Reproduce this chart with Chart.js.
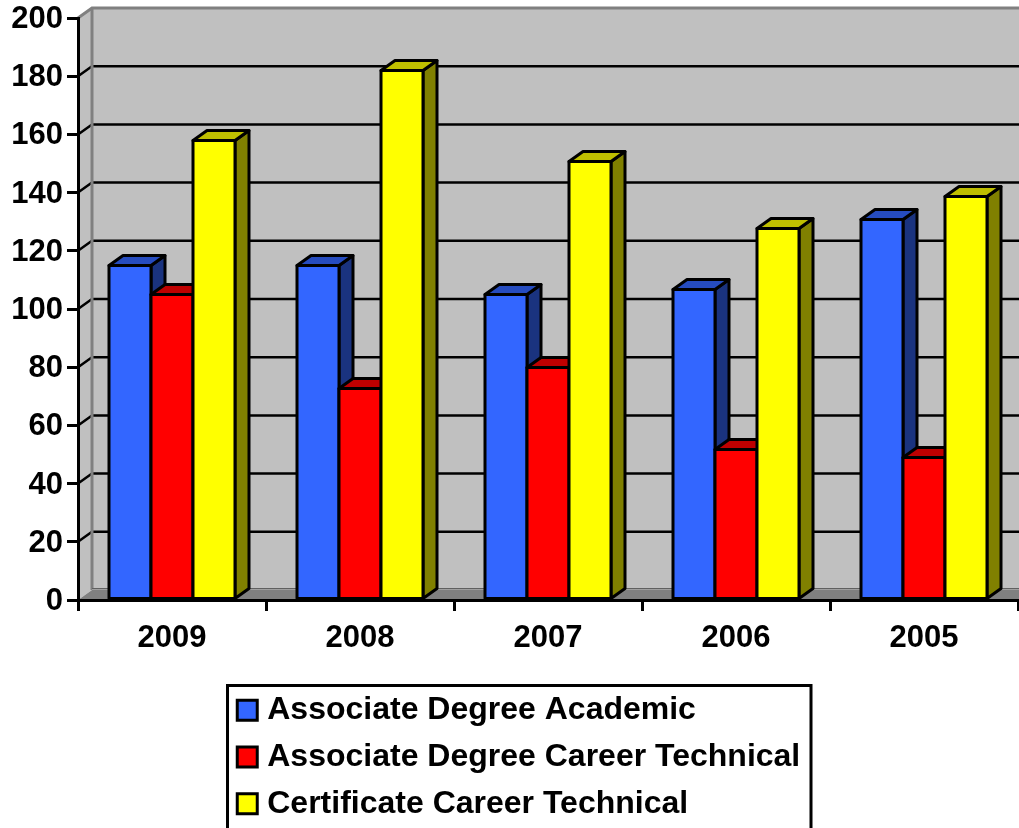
<!DOCTYPE html>
<html>
<head>
<meta charset="utf-8">
<style>
html,body{margin:0;padding:0;background:#fff;overflow:hidden}
#wrap{width:1019px;height:828px;position:relative}
</style>
<script src="https://cdn.jsdelivr.net/npm/chart.js@4"></script>
</head>
<body>
<div id="wrap"><canvas id="c"></canvas></div>
<script>
const categories = ['2009','2008','2007','2006','2005'];
const associateAcademic = [115,115,105,107,131];
const associateCareer = [105,73,80,52,49];
const certificateCareer = [158,182,151,128,139];
const seriesNames = ['Associate Degree Academic','Associate Degree Career Technical','Certificate Career Technical'];
const frontColors = ['#3366FF','#FF0000','#FFFF00'];
const topColors = ['#264CBF','#BF0000','#BFBF00'];
const sideColors = ['#1A337F','#7F0000','#808000'];
const yTicksMax = 200, yStep = 20;

const DX = 14, DY = 10, LW = 3;
const FAMILY = '"Liberation Sans", Arial, sans-serif';
const FONT = {family:FAMILY, weight:'bold', size:31};
const LEGEND_FONT = {family:FAMILY, weight:'bold', size:32};

function poly(ctx, pts, fill, stroke){
  ctx.beginPath();
  pts.forEach((p,i)=> i ? ctx.lineTo(p[0],p[1]) : ctx.moveTo(p[0],p[1]));
  ctx.closePath();
  if(fill){ctx.fillStyle=fill;ctx.fill();}
  if(stroke){ctx.strokeStyle=stroke;ctx.lineWidth=LW;ctx.lineJoin='round';ctx.stroke();}
}

const chart3d = {
  id:'chart3d',
  beforeLayout(chart){
    const lg = chart.legend;
    if(lg && !lg._patched){
      const fit = lg.fit;
      lg.fit = function(){ fit.call(this); this.height = 143; };
      lg._patched = true;
    }
  },
  afterLayout(chart){
    const lg = chart.legend;
    lg.left = 228.5; lg.right = 811; lg.top = 679.5; lg.bottom = 828; lg.width = 582.5;
  },
  beforeDraw(chart){
    const {ctx, chartArea:a, scales:{y}} = chart;
    const l=a.left, r=a.right+1, b=a.bottom, t=a.top;
    ctx.save();
    // back wall, side wall, floor
    poly(ctx,[[l+DX,t-DY],[r,t-DY],[r,b-DY],[l+DX,b-DY]],'#C0C0C0');
    poly(ctx,[[l,t],[l+DX,t-DY],[l+DX,b-DY],[l,b]],'#C0C0C0');
    poly(ctx,[[l,b],[l+DX,b-DY],[r,b-DY],[r,b]],'#808080');
    // grid lines on the wall
    ctx.strokeStyle='#000';ctx.lineWidth=2.5;
    y.ticks.forEach(tk=>{
      if(tk.value===0||tk.value===yTicksMax) return;
      const py=y.getPixelForValue(tk.value);
      ctx.beginPath();
      ctx.moveTo(l,py);ctx.lineTo(l+DX,py-DY);ctx.lineTo(r,py-DY);
      ctx.stroke();
    });
    // wall edges
    ctx.strokeStyle='#808080';ctx.lineWidth=LW;
    ctx.beginPath();
    ctx.moveTo(l,t);ctx.lineTo(l+DX,t-DY);ctx.lineTo(r,t-DY);
    ctx.moveTo(l+DX,t-DY);ctx.lineTo(l+DX,b-DY);
    ctx.stroke();
    ctx.strokeStyle='#606060';ctx.lineWidth=1;
    ctx.beginPath();ctx.moveTo(l+DX,b-DY-1.5);ctx.lineTo(r,b-DY-1.5);ctx.stroke();
    ctx.strokeStyle='#A0A0A0';ctx.lineWidth=1;
    ctx.beginPath();ctx.moveTo(l+DX,b-DY-.5);ctx.lineTo(r,b-DY-.5);ctx.stroke();
    ctx.restore();
  },
  afterDatasetsDraw(chart){
    const ctx = chart.ctx;
    ctx.save();
    categories.forEach((_,i)=>{
      seriesNames.forEach((__,d)=>{
        const el = chart.getDatasetMeta(d).data[i];
        const x0=el.x-el.width/2, x1=el.x+el.width/2, yt=Math.round(el.y)+.5, yb=el.base;
        poly(ctx,[[x1,yt],[x1+DX,yt-DY],[x1+DX,yb-DY],[x1,yb]],sideColors[d],'#000');
        poly(ctx,[[x0,yt],[x0+DX,yt-DY],[x1+DX,yt-DY],[x1,yt]],topColors[d],'#000');
        el.draw(ctx);
        poly(ctx,[[x0,yt],[x1,yt],[x1,yb],[x0,yb]],null,'#000');
      });
    });
    ctx.restore();
  },
  afterDraw(chart){
    const ctx=chart.ctx;
    ctx.save();
    ctx.strokeStyle='#000';ctx.lineWidth=LW;
    ctx.beginPath();
    ctx.moveTo(227.5,840);ctx.lineTo(227.5,685.5);ctx.lineTo(811,685.5);ctx.lineTo(811,840);
    ctx.stroke();
    ctx.restore();
  }
};

const values=[associateAcademic,associateCareer,certificateCareer];
new Chart(document.getElementById('c'),{
  type:'bar',
  data:{
    labels:categories,
    datasets:seriesNames.map((n,i)=>({
      label:n,
      data:values[i],
      backgroundColor:frontColors[i],
      borderWidth:0
    }))
  },
  options:{
    responsive:true,
    maintainAspectRatio:false,
    animation:false,
    devicePixelRatio:1,
    layout:{padding:{top:18,right:1,left:0,bottom:0}},
    datasets:{bar:{categoryPercentage:126/188,barPercentage:1}},
    scales:{
      x:{
        grid:{drawOnChartArea:false,tickLength:11,tickWidth:LW,tickColor:'#000',lineWidth:LW},
        border:{color:'#000',width:LW},
        ticks:{color:'#000',font:FONT,padding:9,maxRotation:0},
        afterFit(s){s.height=85;s.paddingLeft=0;s.paddingRight=0;}
      },
      y:{
        min:0,max:yTicksMax,
        grid:{drawOnChartArea:false,tickLength:11,tickWidth:LW,tickColor:'#000',lineWidth:LW},
        border:{color:'#000',width:LW},
        ticks:{color:'#000',font:FONT,padding:4,stepSize:yStep,labelOffset:1.5},
        afterFit(s){s.width=78;s.paddingTop=0;s.paddingBottom=0;}
      }
    },
    plugins:{
      tooltip:{enabled:false},
      legend:{
        display:true,
        position:'bottom',
        align:'start',
        labels:{
          color:'#000',
          font:LEGEND_FONT,
          padding:14.75,
          boxWidth:8,
          boxHeight:20,
          usePointStyle:true,
          pointStyle:'rect',
          generateLabels(chart){
            return seriesNames.map((n,i)=>({
              text:n,fillStyle:frontColors[i],strokeStyle:'#000',lineWidth:LW,
              pointStyle:'rect',datasetIndex:i,hidden:false,fontColor:'#000'
            }));
          }
        }
      }
    }
  },
  plugins:[chart3d]
});
</script>
</body>
</html>
